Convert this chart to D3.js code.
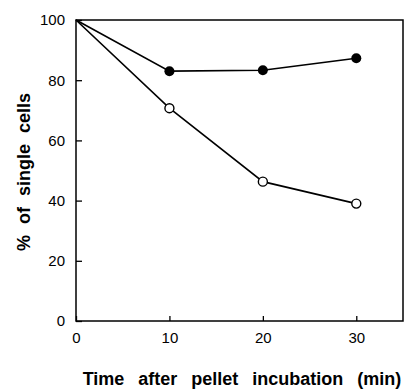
<!DOCTYPE html>
<html>
<head>
<meta charset="utf-8">
<script src="https://cdn.jsdelivr.net/npm/d3@7"></script>
<style>
  body { margin: 0; background: #fff; }
  svg { font-family: "Liberation Sans", Arial, sans-serif; }
</style>
</head>
<body>
<svg id="chart" width="405" height="389"></svg>
<script>
const times = [0, 10, 20, 30];
const filled = [100, 83, 83.3, 87.3];
const open = [100, 70.7, 46.3, 39];
const xTicks = [0, 10, 20, 30];
const yTicks = [0, 20, 40, 60, 80, 100];

const svg = d3.select("#chart");
const margin = { left: 76, top: 20, right: 2, bottom: 68 };
const width = 405 - margin.left - margin.right;
const height = 389 - margin.top - margin.bottom;

const x = d3.scaleLinear().domain([0, 35]).range([0, width]);
const y = d3.scaleLinear().domain([0, 100]).range([height, 0]);

const g = svg.append("g").attr("transform", `translate(${margin.left},${margin.top})`);

// frame
g.append("rect")
  .attr("width", width).attr("height", height)
  .attr("fill", "none").attr("stroke", "#000").attr("stroke-width", 1.5);

const xAxis = g.append("g")
  .attr("transform", `translate(0,${height})`)
  .call(d3.axisBottom(x).tickValues(xTicks).tickSizeInner(-5).tickSizeOuter(0).tickPadding(11));
const yAxis = g.append("g")
  .call(d3.axisLeft(y).tickValues(yTicks).tickSizeInner(-6).tickSizeOuter(0).tickPadding(11));

[xAxis, yAxis].forEach(a => {
  a.select(".domain").remove();
  a.selectAll("line").attr("stroke", "#000").attr("stroke-width", 1.3);
  a.selectAll("text").attr("fill", "#000").style("font-size", "15px").style("font-family", "Liberation Sans, Arial, sans-serif");
});

const line = d3.line().x((d, i) => x(times[i])).y(d => y(d));

[filled, open].forEach(s => {
  g.append("path").datum(s)
    .attr("d", line)
    .attr("fill", "none").attr("stroke", "#000").attr("stroke-width", 1.6);
});

g.selectAll(".filled").data(filled.slice(1)).enter().append("circle")
  .attr("cx", (d, i) => x(times[i + 1])).attr("cy", d => y(d))
  .attr("r", 5).attr("fill", "#000");

g.selectAll(".open").data(open.slice(1)).enter().append("circle")
  .attr("cx", (d, i) => x(times[i + 1])).attr("cy", d => y(d))
  .attr("r", 4.5).attr("fill", "#fff").attr("stroke", "#000").attr("stroke-width", 1.4);

svg.append("text")
  .attr("x", 242).attr("y", 385)
  .attr("text-anchor", "middle")
  .style("font-size", "18px").style("font-weight", "bold")
  .style("word-spacing", "9px")
  .text("Time after pellet incubation (min)");

svg.append("text")
  .attr("transform", "translate(30,172) rotate(-90)")
  .attr("text-anchor", "middle")
  .style("font-size", "18px").style("font-weight", "bold")
  .style("word-spacing", "6px")
  .text("% of single cells");
</script>
</body>
</html>
